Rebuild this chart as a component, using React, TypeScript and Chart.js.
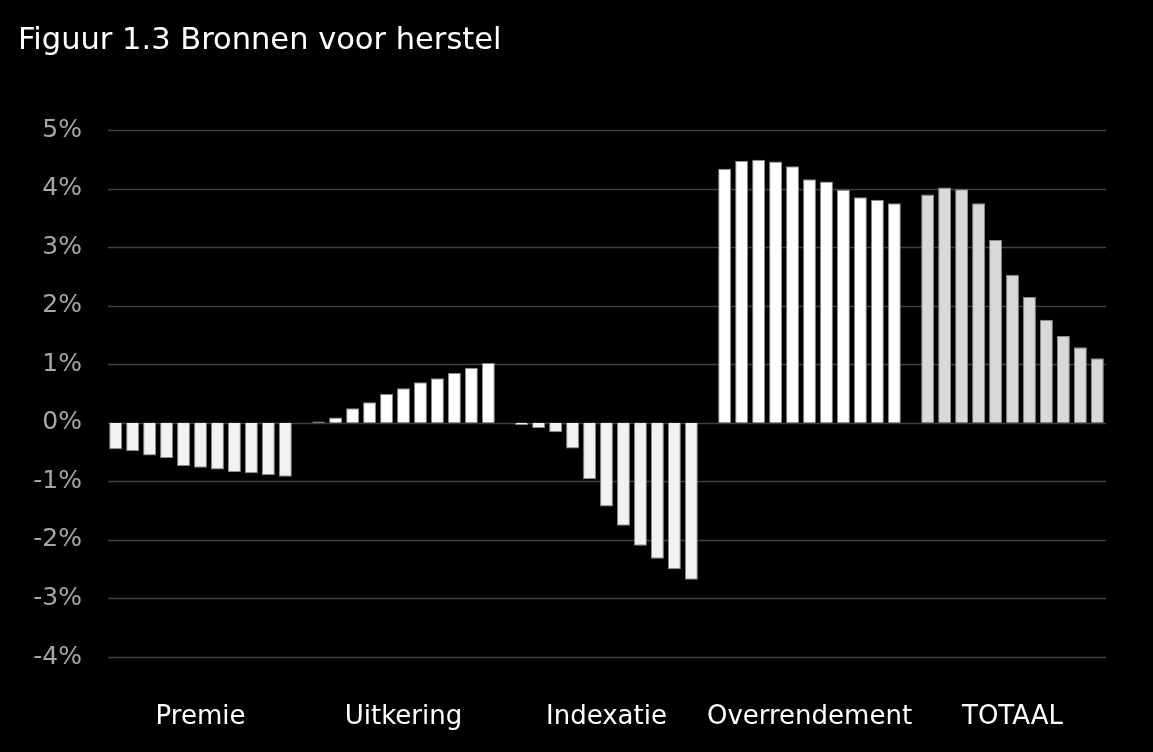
import React, { useEffect, useRef } from "react";
import { Chart, registerables } from "chart.js";

Chart.register(...registerables);

const categories = ["Premie", "Uitkering", "Indexatie", "Overrendement", "TOTAAL"];
const premie = [-0.45, -0.48, -0.56, -0.6, -0.74, -0.77, -0.8, -0.84, -0.86, -0.89, -0.92];
const uitkering = [0.02, 0.09, 0.25, 0.35, 0.49, 0.59, 0.69, 0.76, 0.85, 0.94, 1.02];
const indexatie = [-0.04, -0.09, -0.16, -0.44, -0.96, -1.43, -1.76, -2.1, -2.32, -2.5, -2.68];
const overrendement = [4.34, 4.47, 4.49, 4.46, 4.38, 4.16, 4.12, 3.98, 3.85, 3.81, 3.75];
const totaal = [3.9, 4.02, 3.99, 3.75, 3.12, 2.53, 2.15, 1.76, 1.48, 1.29, 1.1];
const categoryColors = ["#f2f2f2", "#ffffff", "#f2f2f2", "#ffffff", "#d9d9d9"];
const seriesCount = 11;

export default function App() {
  const ref = useRef<HTMLCanvasElement | null>(null);
  useEffect(() => {
    if (!ref.current) return;
    const datasets = [];
    for (let i = 0; i < seriesCount; i++) {
      datasets.push({
        label: String(i + 1),
        data: [premie[i], uitkering[i], indexatie[i], overrendement[i], totaal[i]],
        backgroundColor: categoryColors,
        borderColor: "#8a8a8a",
        borderWidth: 1,
        barPercentage: 0.76,
        categoryPercentage: 0.92,
      });
    }
    const chart = new Chart(ref.current, {
      type: "bar",
      data: { labels: categories, datasets },
      options: {
        animation: false,
        responsive: false,
        maintainAspectRatio: false,
        layout: { padding: { left: 18, right: 39, top: 0, bottom: 0 } },
        plugins: {
          legend: { display: false },
          tooltip: { enabled: false },
          title: {
            display: true,
            text: "Figuur 1.3 Bronnen voor herstel",
            align: "start",
            color: "#ffffff",
            font: { family: "DejaVu Sans", size: 30.5, weight: "normal" },
            padding: { top: 23, bottom: 70.4 },
          },
        },
        scales: {
          x: {
            grid: { display: false, drawTicks: false },
            border: { display: false },
            ticks: {
              color: "#ffffff",
              font: { family: "DejaVu Sans", size: 26 },
              padding: 45,
              maxRotation: 0,
              autoSkip: false,
            },
            afterFit: (s: any) => {
              s.height = 95;
            },
          },
          y: {
            min: -4,
            max: 5,
            grid: { display: false, drawTicks: false },
            border: { display: false },
            ticks: {
              stepSize: 1,
              color: "#a6a6a6",
              font: { family: "DejaVu Sans", size: 25 },
              padding: 17,
              callback: (v: any) => v + "%",
            },
            afterFit: (s: any) => {
              s.width = 81;
            },
          },
        },
      },
      plugins: [
        {
          id: "bg",
          beforeDraw: (c: any) => {
            const ctx = c.ctx;
            ctx.save();
            ctx.fillStyle = "#000000";
            ctx.fillRect(0, 0, c.width, c.height);
            ctx.restore();
          },
          beforeDatasetsDraw: (c: any) => {
            const ctx = c.ctx;
            const ys = c.scales.y;
            const left = c.chartArea.left + 9;
            const right = c.chartArea.right - 8;
            ctx.save();
            ctx.strokeStyle = "#404040";
            ctx.lineWidth = 1.5;
            ys.ticks.forEach((t: any) => {
              const y = Math.round(ys.getPixelForValue(t.value)) + 0.5;
              ctx.beginPath();
              ctx.moveTo(left, y);
              ctx.lineTo(right, y);
              ctx.stroke();
            });
            ctx.restore();
          },
        },
      ],
    } as any);
    return () => chart.destroy();
  }, []);
  return (
    <div style={{ position: "fixed", left: 0, top: 0, width: 1153, height: 752, background: "#000" }}>
      <canvas ref={ref} width={1153} height={752} style={{ display: "block" }} />
    </div>
  );
}
